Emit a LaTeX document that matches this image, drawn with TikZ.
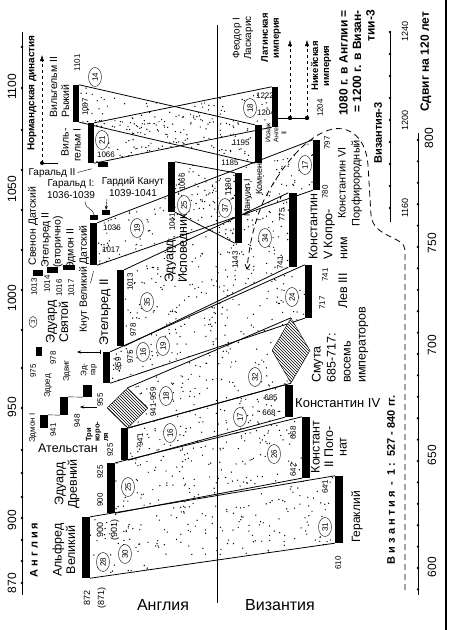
\documentclass[tikz,border=0pt]{standalone}
\usepackage{fontspec}
\setmainfont{Liberation Sans}
\usetikzlibrary{arrows.meta,calc,shapes.geometric,patterns,backgrounds}

% bande pointillee entre deux barres : coins haut gauche, haut droit, bas droit, bas gauche, nombre de points
\newcommand{\bande}[5]{%
  \foreach \k in {1,...,#5}{
    \pgfmathsetmacro\ru{rnd}\pgfmathsetmacro\rv{rnd}
    \coordinate (h) at ($(#1)!\ru!(#2)$);
    \coordinate (b) at ($(#4)!\ru!(#3)$);
    \fill ($(h)!\rv!(b)$) circle (0.7pt);
  }
  \draw[trait] (#1) -- (#2) (#4) -- (#3);
}

\begin{document}
\begin{tikzpicture}[x=1pt,y=-1pt,
  barre/.style={fill=black,inner sep=0,minimum width=7pt},
  trait/.style={line width=0.8pt},
  axe/.style={line width=0.8pt},
  an/.style={rotate=90,inner sep=0,font=\fontsize{8}{9}\selectfont,align=center},
  anh/.style={inner sep=0,font=\fontsize{8}{9}\selectfont},
  nom/.style={rotate=90,inner sep=0,font=\fontsize{12.5}{13.5}\selectfont,align=center},
  moy/.style={rotate=90,inner sep=0,font=\fontsize{10.5}{12}\selectfont,align=center},
  petit/.style={rotate=90,inner sep=0,font=\fontsize{8}{9}\selectfont,align=center},
  gras/.style={rotate=90,inner sep=0,font=\bfseries\fontsize{10}{12}\selectfont,align=center},
  echelle/.style={rotate=90,inner sep=0,font=\fontsize{12}{13}\selectfont},
  rond/.style={draw,ellipse,rotate=90,fill=white,inner sep=0,minimum width=19pt,minimum height=13pt,font=\fontsize{8}{9}\selectfont},
  losange/.style={draw,diamond,inner sep=0,preaction={fill=white},pattern=north west lines}
]
\useasboundingbox (0,0) rectangle (450,630);
\pgfmathsetseed{12}

%% axes du temps
\draw[axe] (22,32) -- (22,595);
\foreach \y in {47,88,130,170,210,250,290,330,368,408,450,473,497,518,540,561,583}
  \fill (22,\y) circle (1.3pt);
\foreach \annee/\y in {1100/87,1050/189,1000/298,950/407,900/520,870/583}
  \node[echelle] (ang\annee) at (12,\y) {\annee};
\draw[axe] (390,32) -- (390,222);
\foreach \y in {32,54,76,98,120,142,164,186,208}
  \fill (390,\y) circle (1.3pt);
\foreach \annee/\y in {1240/31,1200/120,1160/208}
  \node[an,font=\fontsize{9}{10}\selectfont] (byzt\annee) at (405,\y) {\annee};
\draw[axe] (418,133) -- (418,595);
\foreach \k in {0,...,21}
  \fill (418,{140+21.4*\k}) circle (1.3pt);
\foreach \annee/\x/\y in {800/429/138,750/432/243,700/432/345,650/432/455,600/432/567}
  \node[echelle] (byz\annee) at (\x,\y) {\annee};
\draw[line width=1.2pt] (446,0) -- (446,630);

%% barres : Angleterre
\node[barre,minimum width=8pt,minimum height=61pt] (alfred) at (86,547.5) {};
\node[barre,minimum width=8pt,minimum height=50pt] (edouardA) at (111,488) {};
\node[barre,minimum height=32pt] (athel) at (124.5,444) {};
\node[barre,minimum height=31pt] (edgar) at (106.5,367.5) {};
\node[barre,minimum height=76pt] (ethel) at (120.5,308) {};
\node[barre,minimum height=42pt] (knut) at (93.5,244) {};
\node[barre,minimum height=50pt] (edconf) at (171.5,187) {};
\node[barre,minimum width=6pt,minimum height=40pt] (guill1) at (91,143) {};
\node[barre,minimum width=6pt,minimum height=37pt] (guill2) at (76,103.5) {};
\node[barre,minimum width=10pt,minimum height=5pt] (harold2) at (103,164.5) {};
\node[barre,minimum width=8pt,minimum height=5pt] (harold1) at (94,217.5) {};
\node[barre,minimum width=8pt,minimum height=5pt] (hardi) at (106,212.5) {};
\node[barre,minimum width=10pt,minimum height=6pt] (svenon) at (38,273) {};
\node[barre,minimum width=11pt,minimum height=6pt] (ethelB) at (52.5,270) {};
\node[barre,minimum width=12pt,minimum height=5pt] (edmon2) at (69,267.5) {};
\node[barre,minimum width=6pt,minimum height=9pt] (edmart) at (39,351.5) {};
\node[barre,minimum width=8pt,minimum height=13pt] (edmon1) at (44,421.5) {};
\node[barre,minimum width=8pt,minimum height=18pt] (edred) at (64,406) {};
\node[barre,minimum width=9pt,minimum height=12pt] (edvig) at (87.5,391) {};
\draw (edmon1.north east) -- (edred.south west) (edred.north east) -- (edvig.south west);

%% barres : Byzance
\node[barre,minimum width=8pt,minimum height=67pt] (heracl) at (339,509.5) {};
\node[barre,minimum width=8pt,minimum height=61pt] (constans) at (306,447.5) {};
\node[barre,minimum width=8pt,minimum height=32pt] (const4) at (289,401) {};
\node[barre,minimum height=53pt] (leo) at (308.5,291.5) {};
\node[barre,minimum width=8pt,minimum height=74pt] (const5) at (292.5,230) {};
\node[barre,minimum height=50pt] (const6) at (316.5,165) {};
\node[barre,minimum height=70pt] (manuel) at (238.5,208) {};
\node[barre,minimum height=38pt] (isaac) at (258.5,144) {};
\node[barre,minimum width=6pt,minimum height=40pt] (feodor) at (275,107) {};

%% losanges hachures
\node[losange,minimum width=41pt,minimum height=40pt] (troisrois) at (127.5,408) {};
\node[losange,minimum width=38pt,minimum height=65pt] (smuta) at (291,350.5) {};

%% bandes
\begin{scope}[on background layer]
  \draw[trait] (217,25) -- (217,603);
  \bande{guill2.north east}{isaac.north west}{isaac.south west}{guill2.south east}{100}
  \bande{guill1.north east}{feodor.north west}{feodor.south west}{guill1.south east}{100}
  \bande{edconf.north east}{manuel.north west}{manuel.south west}{edconf.south east}{60}
  \bande{knut.north east}{const6.north west}{const6.south west}{knut.south east}{140}
  \bande{ethel.north east}{const5.north west}{const5.south west}{ethel.south east}{170}
  \bande{edgar.north east}{leo.north west}{leo.south west}{edgar.south east}{115}
  \bande{troisrois.north}{smuta.north}{smuta.south}{troisrois.south}{100}
  \bande{athel.north east}{const4.north west}{const4.south west}{athel.south east}{80}
  \bande{edouardA.north east}{constans.north west}{constans.south west}{edouardA.south east}{140}
  \bande{alfred.north east}{heracl.north west}{heracl.south west}{alfred.south east}{180}
\end{scope}

%% Angleterre : dynastie normande
\node[gras] (normand) at (32,93) {Нормандская династия};
\coordinate (nd) at (42,163);
\coordinate (ndh) at (42,55);
\draw[dashed,-{Latex[length=6pt,width=4pt]}] (nd) -- (ndh);
\fill (nd) circle (2pt);
\draw (nd) -- ++(16,0);
\node[moy,anchor=west,align=left] (guil2nom) at (59.5,118) {Вильгельм II\\Рыжий};
\node[an] (a1101) at (77,63) {1101};
\node[an] (a1087) at (85,107) {1087};
\node[rond] (r14) at (95,77) {14};
\node[moy,anchor=east,align=right] (guil1nom) at (71,128) {Виль-\\гельм I};
\node[anh] (a1066) at (106,155) {1066};
\node[rond] (r21) at (102,140) {21};
\node[anh,font=\fontsize{10}{11.5}\selectfont] (har2nom) at (52,173) {Гаральд II};
\draw[shorten <=2pt,shorten >=6pt] (har2nom.east) -- (harold2.south west);
\node[anh,font=\fontsize{10}{11.5}\selectfont,align=center] (har1nom) at (71,189) {Гаральд I:\\1036-1039};
\draw ([xshift=14pt,yshift=-3pt]har1nom.south) .. controls +(1,9) and +(-2,-8) .. (harold1.north);
\node[anh,font=\fontsize{10}{11.5}\selectfont,align=center] (hardinom) at (133,187) {Гардий Канут\\1039-1041};
\draw[-{Stealth[length=4pt]}] ([xshift=-26pt,yshift=-2pt]hardinom.south) -- (hardi.north);

%% Knut et ses voisins
\node[anh] (a1036) at (112,228) {1036};
\node[anh] (a1017) at (111,250) {1017};
\node[rond] (r19k) at (137,228) {19};
\node[moy] (knutnom) at (84,279) {Кнут Великий Датский};
\draw ([yshift=-6pt]knut.south) -- ++(-3,12);
\node[moy] (svenonnom) at (33,226) {Свенон Датский};
\node[moy,anchor=west,align=left] (ethelBnom) at (52,268) {Этельред II\\(вторично)};
\node[moy] (edmon2nom) at (71,249) {Эдмон II};
\foreach \annee/\x/\y in {1013/34/287,1014/47/284,1016/59/288,1017/71/288}
  \node[an] (b\annee) at (\x,\y) {\annee};

%% Эдуард Святой, Эдгар, три короля
\node[nom] (edsvnom) at (57,322) {Эдуард\\Святой};
\node[rond,minimum width=11pt,minimum height=8pt,font=\fontsize{6}{7}\selectfont] (r3) at (33,322) {3};
\node[an] (a975s) at (33,371) {975};
\node[an] (a978s) at (53,358) {978};
\node[petit] (edvignom) at (67,371) {Эдвиг};
\node[petit] (edgarnom) at (89,370) {Эд-\\гар};
\coordinate (fl1) at (100,352);
\draw[{Stealth[length=4pt]}-{Bar[width=4pt]}] ([xshift=-23pt]fl1) -- (fl1);
\node[petit] (edrednom) at (48,386) {Эдред};
\node[petit] (edmon1nom) at (33,428) {Эдмон I};
\node[an] (a941s) at (53,430) {941};
\node[an] (a948) at (77,421) {948};
\node[an] (a955) at (100,400) {955};
\coordinate (fl2) at (97,407);
\draw[{Stealth[length=4pt]}-] ([xshift=-17pt]fl2) -- (fl2);
\node[petit,font=\bfseries\fontsize{7.5}{8.5}\selectfont,anchor=west,align=left] (troisnom) at (97,442) {Три\\коро-\\ля};

%% Этельред II, Эдгар
\node[nom] (ethelnom) at (105,312) {Этельред II};
\node[an] (a1013) at (130,282) {1013};
\node[an] (a978) at (133,330) {978};
\node[rond] (r35) at (147,302) {35};
\node[an] (a959) at (118,364) {959};
\node[an] (a975) at (130,357) {975};
\node[rond] (r16e) at (143,352) {16};
\node[rond] (r19e) at (163,346) {19};
\node[an] (a941959) at (153,402) {941-959};
\node[rond] (r18) at (166,396) {18};

%% Ательстан, Эдуард Древний, Альфред
\node[inner sep=0,font=\fontsize{12.5}{13.5}\selectfont] (athelnom) at (68,448) {Ательстан};
\node[an] (a925a) at (110,450) {925};
\node[an] (a941) at (140,440) {941};
\node[rond] (r16a) at (170,433) {16};
\node[nom] (edAnom) at (67,484) {Эдуард\\Древний};
\node[an] (a900e) at (100,500) {900};
\node[an] (a925e) at (100,472) {925};
\node[rond] (r25e) at (128,487) {25};
\node[nom] (alfnom) at (64,550) {Альфред\\Великий};
\node[an,font=\fontsize{9}{14}\selectfont] (a900) at (108,530) {900\\(901)};
\node[an,font=\fontsize{9}{14}\selectfont] (a872) at (95,598) {872\\(871)};
\node[rond] (r28) at (103,562) {28};
\node[rond] (r30) at (125,554) {30};
\node[gras,font=\bfseries\fontsize{11}{12}\selectfont] (angl) at (34,550) {А\ н\ г\ л\ и\ я};

%% Эдуард Исповедник
\node[nom,anchor=west,align=left] (edconfnom) at (177,283) {Эдуард\\Исповедник};
\node[an] (a1041) at (172,222) {1041};
\node[an] (a1066c) at (182,182) {1066};
\node[rond] (r25c) at (184,205) {25};

%% Byzance
\node[nom,font=\fontsize{12}{13}\selectfont] (heranom) at (357,517) {Гераклий};
\node[an] (a610) at (338,563) {610};
\node[an] (a641) at (325,487) {641};
\node[rond] (r31) at (325,527) {31};
\node[nom] (constansnom) at (329,447) {Констант\\II Пого-\\нат};
\node[an] (a668c) at (293,433) {668};
\node[an] (a642) at (293,470) {642};
\node[rond] (r26) at (274,454) {26};
\node[anh] (a685) at (271,398) {685};
\node[anh] (a668) at (269,413) {668};
\node[inner sep=0,font=\fontsize{13}{14}\selectfont,anchor=west] (const4nom) at (295,403) {Константин IV};
\node[rond] (r17c) at (240,417) {17};
\node[rond] (r32) at (255,377) {32};
\node[nom,anchor=west,align=left,font=\fontsize{12.5}{15}\selectfont] (smutanom) at (340,383) {Смута\\685-717:\\восемь\\императоров};
\node[an] (a741l) at (325,275) {741};
\node[an] (a717) at (322,303) {717};
\node[nom] (leonom) at (343,291) {Лев III};
\node[rond] (r24) at (292,297) {24};
\node[an] (a775) at (282,215) {775};
\node[an] (a741) at (280,263) {741};
\node[rond] (r34) at (265,238) {34};
\node[nom,anchor=west,align=left,font=\fontsize{12.5}{15}\selectfont] (const5nom) at (328,260) {Константин\\V Копро-\\ним};
\node[an] (a797) at (327,143) {797};
\node[an] (a780) at (325,192) {780};
\node[rond] (r17) at (305,165) {17};
\node[moy,font=\fontsize{11}{14}\selectfont] (const6nom) at (350,183) {Константин VI\\Порфирородный};
\node[an] (a1180) at (228,187) {1180};
\node[an] (a1143) at (235,260) {1143};
\node[rond] (r37) at (225,208) {37};
\node[petit,font=\fontsize{9}{10}\selectfont] (manuelnom) at (248,198) {Мануил I};
\node[petit,font=\fontsize{9}{10}\selectfont] (komnen) at (259,179) {Комнен};
\node[anh] (a1195) at (241,143) {1195};
\node[anh] (a1185) at (230,163) {1185};
\node[petit,font=\fontsize{7}{8}\selectfont] (isaacnom) at (276,133) {Исаак\\Ангел\\II};
\node[anh] (a1222) at (265,96) {1222};
\node[anh] (a1204) at (266,113) {1204};
\node[rond] (r18f) at (250,108) {18};
\node[moy,font=\fontsize{10}{11.5}\selectfont] (feodnom) at (243,38) {Феодор I\\Ласкарис};

%% империи
\node[gras,font=\bfseries\fontsize{9.5}{11}\selectfont] (latnom) at (271,38) {Латинская\\империя};
\node[gras,font=\bfseries\fontsize{9.5}{11}\selectfont] (nicnom) at (321,66) {Никейская\\империя};
\coordinate (lat) at (290,118);
\coordinate (nic) at (307,118);
\coordinate (lath) at (290,40);
\coordinate (nich) at (307,40);
\draw[trait] (feodor.east |- lat) -- (nic);
\draw[dashed,-{Latex[length=6pt,width=4pt]}] (lat) -- (lath);
\draw[dashed,-{Latex[length=6pt,width=4pt]}] (nic) -- (nich);
\fill (lat) circle (2.2pt) (nic) circle (2.2pt);
\node[an] (a1204n) at (320,108) {1204};

%% titres
\node[gras,font=\bfseries\fontsize{12}{13.5}\selectfont,anchor=east,align=right] (egal) at (357,10) {1080 г. в Англии =\\= 1200 г. в Визан-\\тии-3};
\node[gras,font=\bfseries\fontsize{11}{12}\selectfont] (byz3) at (378,133) {Византия-3};
\node[gras,font=\bfseries\fontsize{12}{13}\selectfont] (sdvig) at (426,62) {Сдвиг на 120 лет};
\node[gras,font=\bfseries\fontsize{11}{12}\selectfont] (byz1) at (391,480) {В и з а н т и я\ \ -\ \ 1\ :\ \ 527 - 840 гг.};
\node[inner sep=0,font=\fontsize{16}{18}\selectfont] (anglia) at (163,605) {Англия};
\node[inner sep=0,font=\fontsize{16}{18}\selectfont] (vizantia) at (280,605) {Византия};

%% sens du decalage
\draw[dash pattern=on 6pt off 4pt,line width=0.8pt,-{Straight Barb[length=5pt,width=5pt]}]
  (405,590) -- (405,250) .. controls (405,236) and (373,238) .. (371,215) -- (368,165)
  .. controls (366,138) and (350,126) .. (333,129) .. controls (308,134) and (282,165) .. (264,200)
  .. controls (255,220) and (249,245) .. (247,270);
\end{tikzpicture}
\end{document}
